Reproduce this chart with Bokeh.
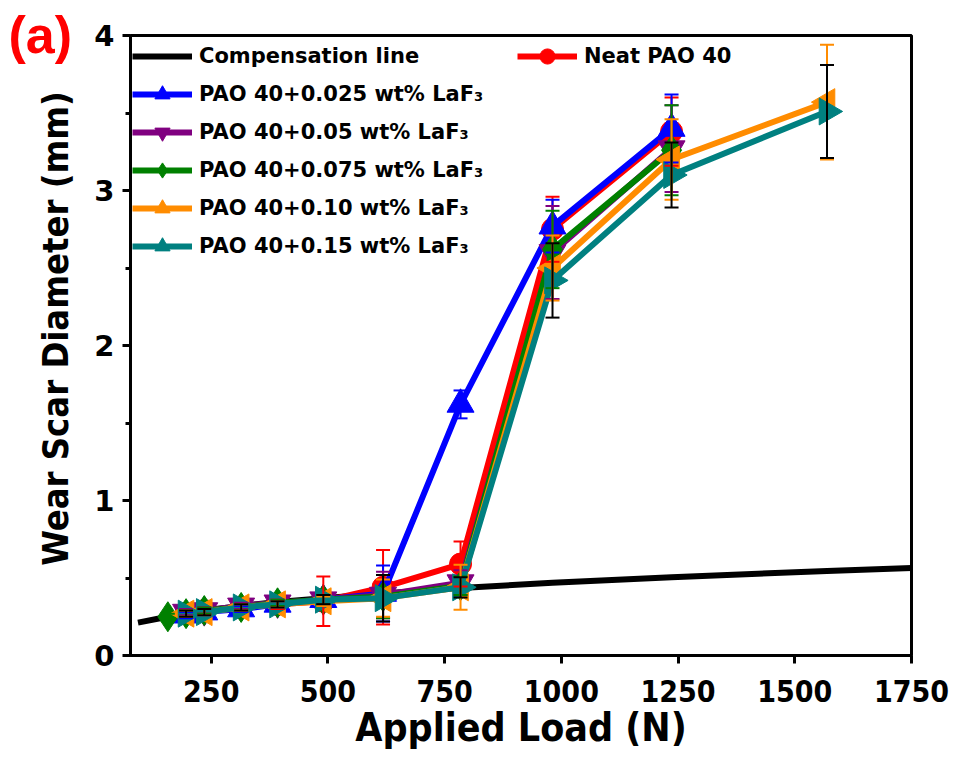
from bokeh.plotting import figure
from bokeh.models import (Legend, LegendItem, Whisker, TeeHead, ColumnDataSource,
                          Label, FixedTicker, Range1d)
from bokeh.embed import file_html
from bokeh.resources import INLINE
import math

# ---------------- data ----------------
comp_load = [93, 157, 196, 235, 314, 392, 490, 618, 784, 981, 1236, 1569, 1750]
comp_d = [0.212, 0.25, 0.27, 0.29, 0.32, 0.345, 0.37, 0.40, 0.435, 0.47, 0.505, 0.545, 0.565]

neat_load = [196, 235, 314, 392, 490, 618, 784, 981, 1236]
neat_val = [0.27, 0.29, 0.31, 0.33, 0.35, 0.44, 0.59, 2.75, 3.38]
neat_err = [0.02, 0.02, 0.02, 0.03, 0.16, 0.24, 0.145, 0.21, 0.22]

s025_load = [196, 235, 314, 392, 490, 618, 784, 981, 1236]
s025_val = [0.26, 0.28, 0.30, 0.33, 0.36, 0.40, 1.62, 2.77, 3.40]
s025_err = [0.02, 0.02, 0.02, 0.02, 0.03, 0.18, 0.09, 0.17, 0.22]

s05_load = [196, 235, 314, 392, 490, 618, 784, 981, 1236]
s05_val = [0.28, 0.29, 0.32, 0.34, 0.36, 0.39, 0.47, 2.60, 3.27]
s05_err = [0.02, 0.02, 0.02, 0.02, 0.03, 0.15, 0.08, 0.30, 0.28]

s075_load = [157, 196, 235, 314, 392, 490, 618, 784, 981, 1236]
s075_val = [0.25, 0.27, 0.29, 0.31, 0.34, 0.36, 0.38, 0.45, 2.62, 3.26]
s075_err = [0.02, 0.02, 0.02, 0.02, 0.02, 0.03, 0.14, 0.06, 0.25, 0.29]

s10_load = [196, 235, 314, 392, 490, 618, 784, 981, 1236, 1569]
s10_val = [0.27, 0.28, 0.31, 0.33, 0.35, 0.37, 0.44, 2.50, 3.20, 3.57]
s10_err = [0.02, 0.02, 0.02, 0.02, 0.03, 0.12, 0.145, 0.21, 0.26, 0.37]

s15_load = [196, 235, 314, 392, 490, 618, 784, 981, 1236, 1569]
s15_val = [0.27, 0.28, 0.31, 0.33, 0.36, 0.37, 0.44, 2.42, 3.10, 3.51]
s15_err = [0.02, 0.02, 0.02, 0.02, 0.03, 0.15, 0.065, 0.24, 0.21, 0.30]

x_ticks = [250, 500, 750, 1000, 1250, 1500, 1750]
y_ticks = [0, 1, 2, 3, 4]
y_minor = [0.5, 1.5, 2.5, 3.5]

COND = "DejaVu Sans Condensed, Liberation Sans"

# ---------------- figure ----------------
p = figure(frame_width=781, frame_height=620,
           x_range=Range1d(77, 1750), y_range=Range1d(0, 4),
           output_backend="svg", toolbar_location=None,
           min_border_left=130, min_border_right=42,
           min_border_top=35, min_border_bottom=95)
p.xgrid.visible = False
p.ygrid.visible = False
p.outline_line_color = "black"
p.outline_line_width = 3
p.background_fill_color = "white"

p.xaxis.ticker = FixedTicker(ticks=x_ticks)
p.yaxis.ticker = FixedTicker(ticks=y_ticks, minor_ticks=y_minor)
for ax in (p.xaxis[0], p.yaxis[0]):
    ax.axis_line_width = 3
    ax.major_tick_line_width = 3
    ax.minor_tick_line_width = 3
    ax.major_tick_in = 0
    ax.major_tick_out = 8
    ax.minor_tick_in = 0
    ax.minor_tick_out = 5
    ax.axis_label_text_font_style = "bold"
    ax.major_label_text_font_style = "bold"
    ax.axis_label_text_color = "black"
    ax.major_label_text_color = "black"
p.xaxis.minor_tick_line_color = None

p.xaxis.axis_label = "Applied Load (N)"
p.xaxis.axis_label_text_font = COND
p.xaxis.axis_label_text_font_size = "39px"
p.xaxis.major_label_text_font = COND
p.xaxis.major_label_text_font_size = "30px"
p.yaxis.major_label_text_font = "DejaVu Sans"
p.yaxis.major_label_text_font_size = "29px"
p.xaxis.major_label_standoff = 16
p.yaxis.major_label_standoff = 8
p.xaxis.axis_label_standoff = 0

# ---------------- glyphs ----------------
comp_r = p.line(comp_load, comp_d, line_color="black", line_width=6)

series = [
    ("Neat PAO 40", neat_load, neat_val, neat_err, "#FF0000", "#FF0000", "circle", 0, 22),
    ("PAO 40+0.025 wt% LaF\u2083", s025_load, s025_val, s025_err, "#0000FF", "#0000FF", "triangle", 0, 27),
    ("PAO 40+0.05 wt% LaF\u2083", s05_load, s05_val, s05_err, "#800080", "#800080", "inverted_triangle", 0, 27),
    ("PAO 40+0.075 wt% LaF\u2083", s075_load, s075_val, s075_err, "#008000", "#008000", "diamond", 0, 30),
    ("PAO 40+0.10 wt% LaF\u2083", s10_load, s10_val, s10_err, "#FF8C00", "#FF8C00", "triangle", math.pi / 2, 27),
    ("PAO 40+0.15 wt% LaF\u2083", s15_load, s15_val, s15_err, "#008080", "black", "triangle", -math.pi / 2, 27),
]

items = {}
for name, xs, ys, es, col, ecol, mk, ang, sz in series:
    src = ColumnDataSource(dict(x=xs, y=ys,
                                lo=[a - b for a, b in zip(ys, es)],
                                hi=[a + b for a, b in zip(ys, es)]))
    lr = p.line("x", "y", source=src, line_color=col, line_width=6)
    sr = p.scatter("x", "y", source=src, marker=mk, angle=ang, size=sz,
                   fill_color=col, line_color=col, line_width=1)
    w = Whisker(source=src, base="x", lower="lo", upper="hi", dimension="height",
                line_color=ecol, line_width=2, level="glyph",
                upper_head=TeeHead(size=14, line_color=ecol, line_width=2),
                lower_head=TeeHead(size=14, line_color=ecol, line_width=2))
    p.add_layout(w)
    items[name] = [lr, sr]

names = [s[0] for s in series]
leg1 = Legend(items=[LegendItem(label="Compensation line", renderers=[comp_r])] +
              [LegendItem(label=n, renderers=items[n]) for n in names[1:]],
              location=(2, 390))
leg2 = Legend(items=[LegendItem(label=names[0], renderers=items[names[0]])],
              location=(387, 580))
for lg in (leg1, leg2):
    lg.label_text_font = "DejaVu Sans"
    lg.label_text_font_style = "bold"
    lg.label_text_font_size = "21px"
    lg.label_text_color = "black"
    lg.glyph_width = 60
    lg.glyph_height = 38
    lg.label_height = 38
    lg.label_standoff = 7
    lg.spacing = 0
    lg.padding = 3
    lg.margin = 0
    lg.border_line_color = None
    lg.background_fill_alpha = 0
    p.add_layout(lg)

# panel label "(a)"
p.add_layout(Label(x=8, y=5, x_units="canvas", y_units="canvas", text="(a)",
                   text_color="#FF0000", text_font="Liberation Sans",
                   text_font_style="bold", text_font_size="52px",
                   text_baseline="top", text_align="left"), "left")

# y axis title (rotated)
p.add_layout(Label(x=55, y=328, x_units="canvas", y_units="canvas",
                   text="Wear Scar Diameter (mm)", angle=math.pi / 2,
                   text_color="black", text_font=COND,
                   text_font_style="bold", text_font_size="36px",
                   text_baseline="middle", text_align="center"), "right")

open("out.html", "w").write(file_html(p, INLINE))
